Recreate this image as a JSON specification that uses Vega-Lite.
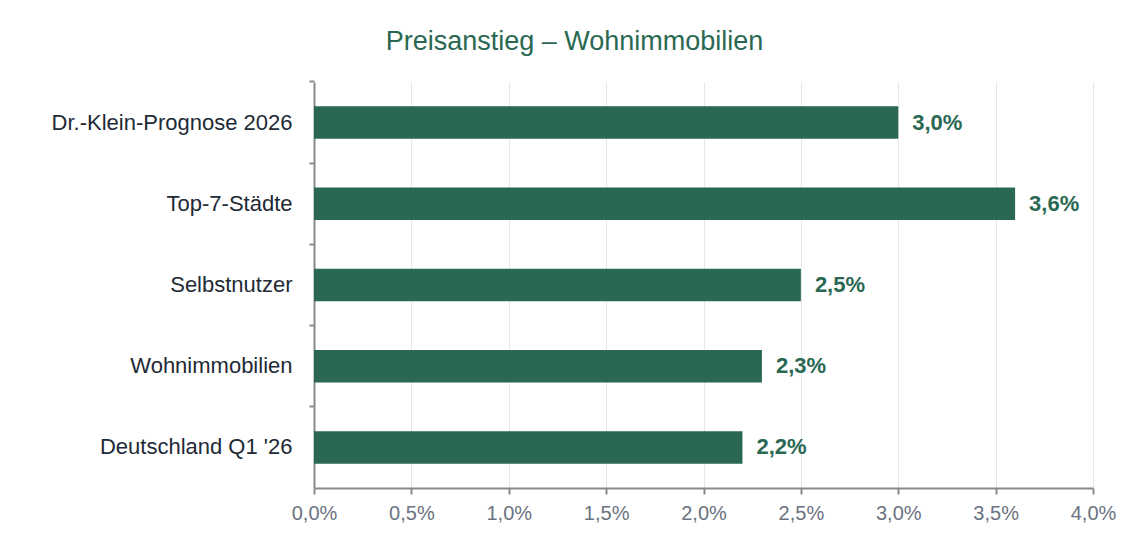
{
  "$schema": "https://vega.github.io/schema/vega-lite/v6.json",
  "autosize": {"type": "none"},
  "width": 779,
  "height": 406,
  "padding": {"left": 314, "top": 82, "right": 35, "bottom": 50},
  "background": "#ffffff",
  "title": {
    "text": "Preisanstieg – Wohnimmobilien",
    "color": "#2a6853",
    "font": "Liberation Sans",
    "fontSize": 27,
    "fontWeight": "normal",
    "anchor": "middle",
    "dx": -129,
    "offset": 24
  },
  "data": {
    "values": [
      {"kategorie": "Dr.-Klein-Prognose 2026", "wert": 0.030},
      {"kategorie": "Top-7-Städte", "wert": 0.036},
      {"kategorie": "Selbstnutzer", "wert": 0.025},
      {"kategorie": "Wohnimmobilien", "wert": 0.023},
      {"kategorie": "Deutschland Q1 '26", "wert": 0.022}
    ]
  },
  "encoding": {
    "y": {
      "field": "kategorie",
      "type": "nominal",
      "sort": null,
      "scale": {"paddingInner": 0.6, "paddingOuter": 0.3},
      "axis": {
        "title": null,
        "bandPosition": -0.75,
        "labelFont": "Liberation Sans",
        "labelFontSize": 22,
        "labelColor": "#222a35",
        "labelPadding": 17,
        "labelLimit": 0,
        "tickSize": 5,
        "tickColor": "#8a8a8a",
        "tickWidth": 2,
        "domainColor": "#8a8a8a",
        "domainWidth": 2,
        "grid": false
      }
    },
    "x": {
      "field": "wert",
      "type": "quantitative",
      "scale": {"domain": [0, 0.04], "nice": false},
      "axis": {
        "title": null,
        "format": ".1%",
        "values": [0, 0.005, 0.01, 0.015, 0.02, 0.025, 0.03, 0.035, 0.04],
        "labelFlush": false,
        "labelOverlap": false,
        "labelFont": "Liberation Sans",
        "labelFontSize": 20,
        "labelColor": "#6b7280",
        "labelPadding": 9,
        "tickSize": 6,
        "tickColor": "#8a8a8a",
        "tickWidth": 2,
        "domainColor": "#8a8a8a",
        "domainWidth": 2,
        "grid": true,
        "gridColor": "#e5e5ea",
        "gridWidth": 1
      }
    }
  },
  "layer": [
    {"mark": {"type": "bar", "color": "#2a6853"}},
    {
      "mark": {
        "type": "text",
        "align": "left",
        "baseline": "middle",
        "dx": 14,
        "font": "Liberation Sans",
        "fontSize": 22,
        "fontWeight": "bold",
        "color": "#2a6853"
      },
      "encoding": {"text": {"field": "wert", "type": "quantitative", "format": ".1%"}}
    }
  ],
  "config": {
    "view": {"stroke": null},
    "locale": {
      "number": {"decimal": ",", "thousands": ".", "grouping": [3], "currency": ["", " €"]}
    }
  }
}
